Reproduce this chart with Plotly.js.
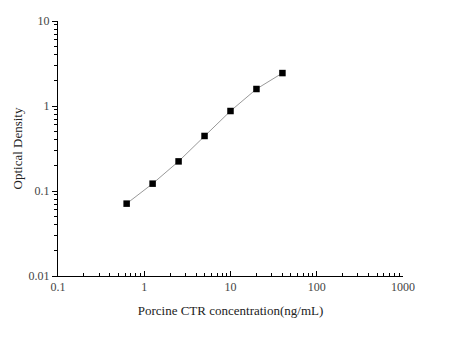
<!DOCTYPE html>
<html>
<head>
<meta charset="utf-8">
<script src="https://cdn.plot.ly/plotly-3.0.1.min.js"></script>
<style>html,body{margin:0;padding:0;background:#fff;}#chart{width:466px;height:351px;}</style>
</head>
<body>
<div id="chart"></div>
<script>
const concentration = [0.625, 1.25, 2.5, 5, 10, 20, 40];
const opticalDensity = [0.071, 0.122, 0.223, 0.444, 0.873, 1.585, 2.44];
const xTickVals = [0.1, 1, 10, 100, 1000];
const xTickText = ["0.1", "1", "10", "100", "1000"];
const yTickVals = [0.01, 0.1, 1, 10];
const yTickText = ["0.01", "0.1", "1", "10"];
const xTitle = "Porcine CTR concentration(ng/mL)";
const yTitle = "Optical Density";

const font = "Liberation Serif";

Plotly.newPlot("chart", [{
  x: concentration,
  y: opticalDensity,
  type: "scatter",
  mode: "lines+markers",
  line: {color: "#999999", width: 1},
  marker: {symbol: "square", size: 6.5, color: "#000"}
}], {
  width: 466, height: 351,
  margin: {l: 57.5, r: 63, t: 21, b: 75},
  paper_bgcolor: "#fff", plot_bgcolor: "#fff",
  showlegend: false,
  font: {family: font, color: "#222"},
  xaxis: {
    type: "log", range: [-1, 3],
    tickmode: "array", tickvals: xTickVals, ticktext: xTickText,
    ticks: "inside", ticklen: 5, tickwidth: 1, tickcolor: "#000",
    minor: {dtick: "D1", ticks: "inside", ticklen: 3, tickwidth: 1, tickcolor: "#000", showgrid: false},
    showline: true, linecolor: "#000", linewidth: 1, mirror: false,
    showgrid: false, zeroline: false,
    tickfont: {family: font, size: 12, color: "#444"},
    title: {text: xTitle, font: {family: font, size: 13, color: "#222"}, standoff: 12}
  },
  yaxis: {
    type: "log", range: [-2, 1],
    tickmode: "array", tickvals: yTickVals, ticktext: yTickText,
    ticks: "outside", ticklen: 5, tickwidth: 1, tickcolor: "#000",
    minor: {dtick: "D1", ticks: "outside", ticklen: 3, tickwidth: 1, tickcolor: "#000", showgrid: false},
    showline: true, linecolor: "#000", linewidth: 1, mirror: false,
    showgrid: false, zeroline: false,
    tickfont: {family: font, size: 12, color: "#444"},
    title: {text: yTitle, font: {family: font, size: 13, color: "#222"}, standoff: 3}
  }
}, {displayModeBar: false, staticPlot: true});
</script>
</body>
</html>
